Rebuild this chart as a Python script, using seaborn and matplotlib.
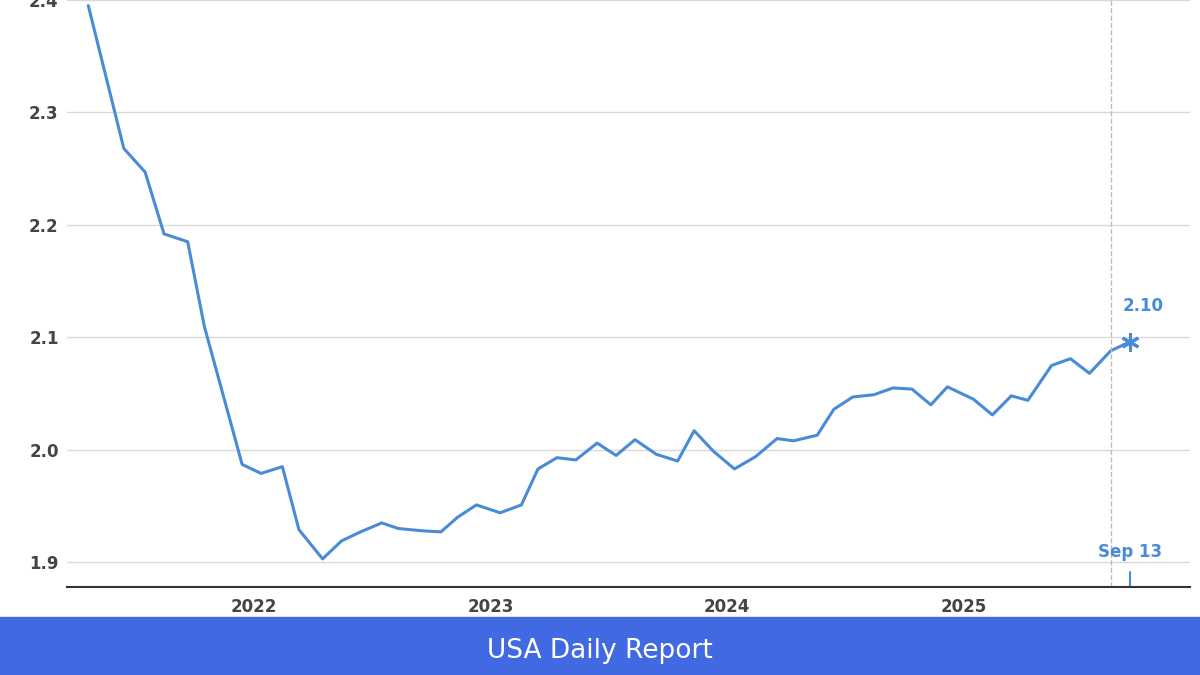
import matplotlib.pyplot as plt
import seaborn as sns
import pandas as pd

# decimal years
dates = [2021.30, 2021.45, 2021.54, 2021.62, 2021.72, 2021.79, 2021.95, 2022.03, 2022.12, 2022.19,
         2022.29, 2022.37, 2022.45, 2022.54, 2022.61, 2022.71, 2022.79, 2022.86, 2022.94, 2023.04,
         2023.13, 2023.20, 2023.28, 2023.36, 2023.45, 2023.53, 2023.61, 2023.70, 2023.79, 2023.86,
         2023.94, 2024.03, 2024.12, 2024.21, 2024.28, 2024.38, 2024.45, 2024.53, 2024.62, 2024.70,
         2024.78, 2024.86, 2024.93, 2025.04, 2025.12, 2025.20, 2025.27, 2025.37, 2025.45, 2025.53,
         2025.62, 2025.70]
values = [2.395, 2.268, 2.247, 2.192, 2.185, 2.110, 1.987, 1.979, 1.985, 1.929,
          1.903, 1.919, 1.927, 1.935, 1.930, 1.928, 1.927, 1.940, 1.951, 1.944,
          1.951, 1.983, 1.993, 1.991, 2.006, 1.995, 2.009, 1.996, 1.990, 2.017,
          1.999, 1.983, 1.994, 2.010, 2.008, 2.013, 2.036, 2.047, 2.049, 2.055,
          2.054, 2.040, 2.056, 2.045, 2.031, 2.048, 2.044, 2.075, 2.081, 2.068,
          2.088, 2.096]
year_ticks = [2022, 2023, 2024, 2025]
y_ticks = [1.9, 2.0, 2.1, 2.2, 2.3, 2.4]

df = pd.DataFrame({"date": dates, "value": values})
blue = "#4a8bd6"
gray = "#444444"

sns.set_style("white")
fig = plt.figure(figsize=(12, 6.75), dpi=100)
ax = fig.add_axes([67 / 1200, 1 - 587 / 675, 1123 / 1200, 587 / 675])
for y in y_ticks:
    ax.axhline(y, color="#d9d9d9", lw=1, zorder=0)
sns.lineplot(data=df, x="date", y="value", ax=ax, color=blue, lw=2.2)
ax.plot(dates[-1], values[-1], marker=(6, 2, 0), ms=13, mew=2.2, color=blue)
ax.axvline(2025.62, color="#bbbbbb", ls="--", lw=1)
ax.set_xlim(2021.21, 2025.955)
ax.set_ylim(1.878, 2.40)
ax.set_xticks(year_ticks)
ax.set_xticklabels([str(y) for y in year_ticks], fontsize=12, fontweight="bold", color=gray)
ax.set_yticks(y_ticks)
ax.set_yticklabels([f"{y:.1f}" for y in y_ticks], fontsize=12, fontweight="bold", color=gray)
ax.tick_params(axis="both", length=0, pad=8)
ax.tick_params(axis="y", pad=6)
ax.set_xlabel("")
ax.set_ylabel("")
for s in ["top", "right", "left"]:
    ax.spines[s].set_visible(False)
ax.spines["bottom"].set_color("#333333")
ax.spines["bottom"].set_linewidth(1.5)
ax.text(2025.755, 2.12, "2.10", color=blue, fontsize=12, fontweight="bold", ha="center", va="bottom")
ax.text(2025.70, 1.901, "Sep 13", color=blue, fontsize=12, fontweight="bold", ha="center", va="bottom")
ax.plot([2025.70, 2025.70], [1.878, 1.891], color=blue, lw=1.5, clip_on=False)

fig.text(0.02, 0.003, "Federal Reserve Bank of Chicago", color="#1f3a7a", fontsize=12,
         fontweight="bold", va="bottom")
fig.patches.append(plt.Rectangle((0, 0), 1, 58 / 675, transform=fig.transFigure,
                                 color="#4169e1", zorder=5))
fig.text(0.5, 24 / 675, "USA Daily Report", color="white", fontsize=19, ha="center",
         va="center", zorder=6)
fig.savefig("out.png")
